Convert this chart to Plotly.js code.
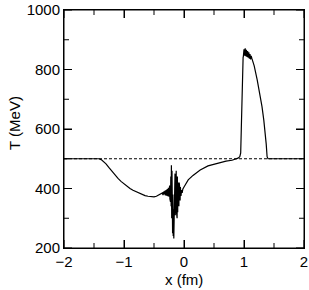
<!DOCTYPE html>
<html><head><meta charset="utf-8">
<script src="https://cdn.plot.ly/plotly-3.0.1.min.js"></script>
<style>html,body{margin:0;padding:0;background:#fff}#plot{width:309px;height:290px}</style>
</head><body><div id="plot"></div>
<script>
// Temperature profile T(x)
const xPos = [-2, -1.42, -1.38, -1.34, -1.3, -1.25, -1.2, -1.15, -1.1, -1.05, -1.0, -0.95, -0.9, -0.85, -0.8, -0.75, -0.7, -0.65, -0.6, -0.55, -0.5, -0.46, -0.42, -0.38,
  -0.36, -0.35, -0.34, -0.33, -0.32, -0.31, -0.30, -0.29, -0.28, -0.27, -0.26, -0.25, -0.24, -0.235, -0.23, -0.225, -0.22, -0.215, -0.21, -0.205, -0.20, -0.19, -0.185, -0.18, -0.175, -0.17, -0.165, -0.16, -0.155, -0.15, -0.145, -0.14, -0.135, -0.13, -0.125, -0.12, -0.115, -0.11, -0.105, -0.10, -0.095, -0.09, -0.085, -0.08, -0.075, -0.07, -0.065, -0.06, -0.05, -0.04, -0.03, -0.02,
  0.0, 0.07, 0.15, 0.27, 0.4, 0.55, 0.7, 0.8, 0.86, 0.9, 0.93, 0.945, 0.955, 0.965, 0.975, 0.985,
  0.99, 1.0, 1.01, 1.02, 1.03, 1.04, 1.05, 1.06, 1.07, 1.08, 1.09, 1.1, 1.11, 1.12, 1.13,
  1.17, 1.22, 1.26, 1.3, 1.33, 1.355, 1.37, 1.385, 1.4, 1.42, 2];
const tempMeV = [500, 500, 497, 491, 483, 470, 457, 445, 434, 424, 415, 407, 400, 394, 389, 384, 380, 376, 374, 372, 372, 374, 378, 381,
  385, 378, 390, 380, 392, 377, 395, 376, 398, 374, 402, 372, 410, 365, 420, 355, 440, 340, 478, 300, 460, 250, 380, 240, 330, 232, 350, 440, 320, 450, 310, 430, 330, 460, 320, 430, 300, 440, 320, 420, 330, 410, 340, 420, 350, 400, 360, 405, 375, 395, 385, 398,
  405, 429, 444, 462, 476, 485, 492, 495, 498, 502, 507, 520, 600, 720, 800, 840,
  845, 868, 846, 871, 845, 866, 842, 862, 840, 858, 836, 852, 834, 846, 838,
  812, 765, 722, 675, 630, 586, 550, 507, 500, 500, 500];
// Reference level
const refX = [-2, 2];
const refT = [500, 500];

const xTickVals = [-2, -1, 0, 1, 2];
const yTickVals = [200, 400, 600, 800, 1000];
const xMinorVals = [-1.5, -0.5, 0.5, 1.5];
const yMinorVals = [300, 500, 700, 900];
const xTitle = 'x (fm)';
const yTitle = 'T (MeV)';

const FONT = 'Liberation Sans, Arial, sans-serif';
const X_RANGE = [-2, 2], Y_RANGE = [200, 1000];

const traces = [
  {x: refX, y: refT, mode: 'lines', line: {color: 'black', width: 1, dash: '3px,2px'}},
  {x: xPos, y: tempMeV, mode: 'lines', line: {color: 'black', width: 1.2}}
];

// Frame and tick marks (inside, on all four sides), placed through the axes
const shapes = [{type: 'rect', xref: 'paper', yref: 'paper', x0: 0, x1: 1, y0: 0, y1: 1, line: {color: 'black', width: 1}}];
function yTicks(vals, len) {
  vals.forEach(function (v) {
    shapes.push({type: 'line', xref: 'x', yref: 'y', xsizemode: 'pixel', xanchor: X_RANGE[0], x0: 0, x1: len, y0: v, y1: v, line: {color: 'black', width: 1}});
    shapes.push({type: 'line', xref: 'x', yref: 'y', xsizemode: 'pixel', xanchor: X_RANGE[1], x0: 0, x1: -len, y0: v, y1: v, line: {color: 'black', width: 1}});
  });
}
function xTicks(vals, len) {
  vals.forEach(function (v) {
    shapes.push({type: 'line', xref: 'x', yref: 'y', ysizemode: 'pixel', yanchor: Y_RANGE[0], y0: 0, y1: len, x0: v, x1: v, line: {color: 'black', width: 1}});
    shapes.push({type: 'line', xref: 'x', yref: 'y', ysizemode: 'pixel', yanchor: Y_RANGE[1], y0: 0, y1: -len, x0: v, x1: v, line: {color: 'black', width: 1}});
  });
}
yTicks(yTickVals, 8); yTicks(yMinorVals, 5);
xTicks(xTickVals, 8); xTicks(xMinorVals, 5);

const axisCommon = {
  showgrid: false, zeroline: false, showline: true, linecolor: 'black', linewidth: 1,
  mirror: 'allticks', ticks: 'inside', ticklen: 8, tickwidth: 1, tickcolor: 'black',
  tickfont: {family: FONT, size: 15, color: 'black'}
};

const layout = {
  width: 309, height: 290,
  margin: {l: 64, r: 5, t: 10, b: 42},
  showlegend: false,
  xaxis: Object.assign({}, axisCommon, {range: X_RANGE, tickvals: xTickVals}),
  yaxis: Object.assign({}, axisCommon, {range: Y_RANGE, tickvals: yTickVals}),
  shapes: shapes,
  annotations: [
    {text: xTitle, xref: 'paper', yref: 'paper', x: 0.5, y: 0, yshift: -31, xanchor: 'center', yanchor: 'middle', showarrow: false,
     font: {family: FONT, size: 15, color: 'black'}},
    {text: yTitle, xref: 'paper', yref: 'paper', x: 0, y: 0.5, xshift: -50, yshift: 6, textangle: -90, xanchor: 'center', yanchor: 'middle', showarrow: false,
     font: {family: FONT, size: 15, color: 'black'}}
  ]
};

Plotly.newPlot('plot', traces, layout, {displayModeBar: false}).then(function () {});
</script></body></html>
